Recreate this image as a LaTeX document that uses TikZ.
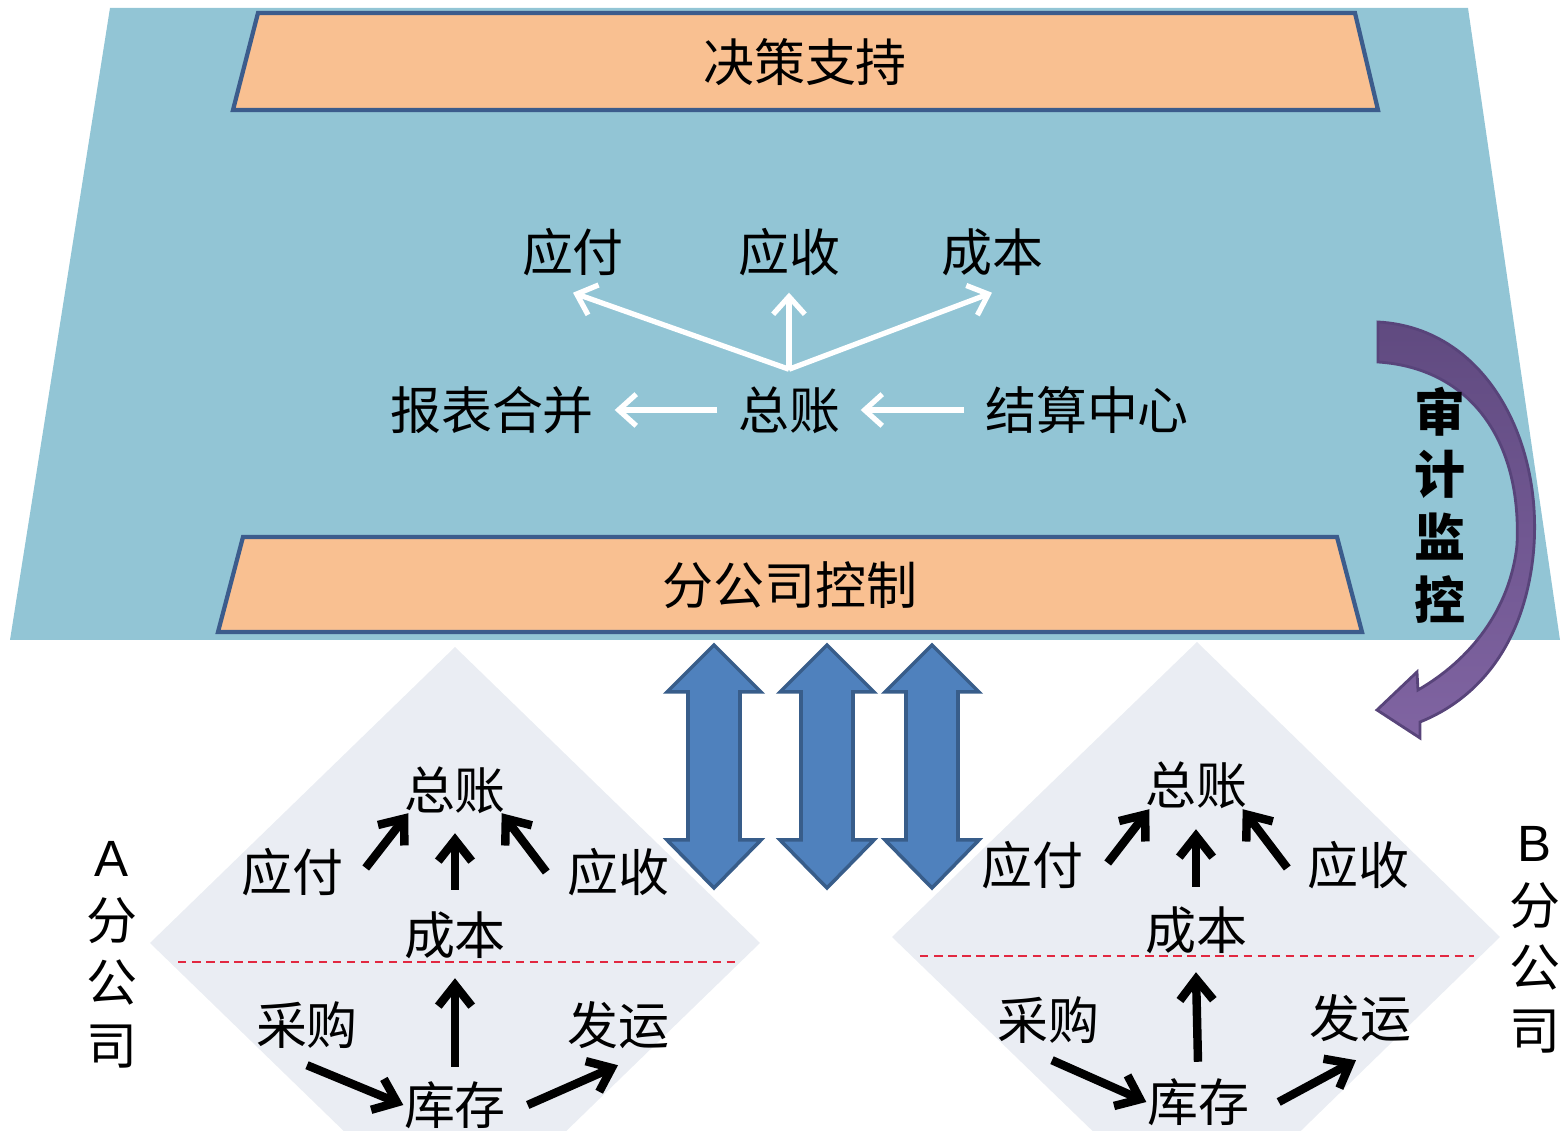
\documentclass[tikz,border=0pt]{standalone}
\usepackage{fontspec}
\setmainfont{Liberation Sans}
\newfontfamily\cjk{Noto Sans CJK SC}
\usepackage{tikz}
\usetikzlibrary{arrows.meta}

\definecolor{skyblue}{RGB}{146,197,213}
\definecolor{peach}{RGB}{249,192,145}
\definecolor{bannerline}{RGB}{60,92,140}
\definecolor{arrowblue}{RGB}{79,129,189}
\definecolor{arrowline}{RGB}{56,93,138}
\definecolor{diagrey}{RGB}{234,237,243}
\definecolor{cutred}{RGB}{226,40,64}
\definecolor{auditdark}{RGB}{96,74,128}
\definecolor{auditlight}{RGB}{128,100,162}
\definecolor{auditline}{RGB}{88,68,122}

\begin{document}
\begin{tikzpicture}[x=0.01cm, y=-0.01cm,
  lbl/.style={font=\cjk\fontsize{14.5pt}{17pt}\selectfont, inner xsep=0.2cm, inner ysep=0pt, minimum height=0.8cm},
  dlbl/.style={font=\cjk\fontsize{14.5pt}{17pt}\selectfont, inner sep=0pt, minimum height=0.55cm},
  side/.style={font=\cjk\fontsize{14.5pt}{17.8pt}\selectfont, align=center, inner sep=0pt},
  wArrow/.style={-{Straight Barb[length=5pt,width=9pt]}, white, line width=1.5pt},
  bArrow/.style={-{Straight Barb[length=6pt,width=9.5pt]}, black, line width=2.4pt},
  banner/.style={fill=peach, draw=bannerline, line width=1.2pt},
  dbl/.style={fill=arrowblue, draw=arrowline, line width=1pt},
  cut/.style={draw=cutred, line width=0.6pt, dash pattern=on 2.4pt off 1.6pt},
  audit/.style={top color=auditdark, bottom color=auditlight, draw=auditline, line width=0.8pt}
]
\useasboundingbox (0,0) rectangle (1562,1131);

% head office
\fill[skyblue] (110,8) -- (1468,8) -- (1560,640) -- (10,640) -- cycle;
\draw[banner] (258,13) -- (1355,13) -- (1378,110) -- (233,110) -- cycle;
\draw[banner] (243,537) -- (1337,537) -- (1362,632) -- (218,632) -- cycle;
\node[lbl](JC) at (805,62) {决策支持};
\node[lbl](FG) at (790,585) {分公司控制};

\node[lbl](YF) at (573,252) {应付};
\node[lbl](YS) at (789,252) {应收};
\node[lbl](CB) at (992,252) {成本};
\node[lbl](BB) at (492,410) {报表合并};
\node[lbl](ZZ) at (789,410) {总账};
\node[lbl](JS) at (1087,410) {结算中心};

\path[wArrow] (ZZ.north) edge (YF.south);
\path[wArrow] (ZZ.north) edge (YS.south);
\path[wArrow] (ZZ.north) edge (CB.south);
\path[wArrow] (ZZ) edge (BB);
\path[wArrow] (JS) edge (ZZ);

% audit
\draw[audit] (1378,322) .. controls (1490,328) and (1548,450) .. (1532,565)
  .. controls (1520,650) and (1475,700) .. (1420,722) -- (1420,738) -- (1377,710)
  -- (1417,672) -- (1418,690) .. controls (1470,660) and (1510,610) .. (1517,545)
  .. controls (1522,440) and (1470,368) .. (1378,362) -- cycle;
\node[side](SJ) at (1440,505) {\bfseries 审\\\bfseries 计\\\bfseries 监\\\bfseries 控};

% branches
\fill[diagrey] (455,647) -- (760,943) -- (455,1239) -- (150,943) -- cycle;
\fill[diagrey] (1197,642) -- (1500,937) -- (1197,1232) -- (892,937) -- cycle;
\draw[cut] (178,962) -- (735,962);
\draw[cut] (920,956) -- (1474,956);

\draw[dbl] (714,645) -- ++(47,47) -- ++(-21,0) -- ++(0,148) -- ++(21,0) -- ++(-47,48)
  -- ++(-47,-48) -- ++(21,0) -- ++(0,-148) -- ++(-21,0) -- cycle;
\draw[dbl] (827,645) -- ++(47,47) -- ++(-21,0) -- ++(0,148) -- ++(21,0) -- ++(-47,48)
  -- ++(-47,-48) -- ++(21,0) -- ++(0,-148) -- ++(-21,0) -- cycle;
\draw[dbl] (932,645) -- ++(47,47) -- ++(-21,0) -- ++(0,148) -- ++(21,0) -- ++(-47,48)
  -- ++(-47,-48) -- ++(21,0) -- ++(0,-148) -- ++(-21,0) -- cycle;

% branch A
\node[side](AL) at (112,955) {{\rmfamily A}\\分\\公\\司};
\node[dlbl](AZZ) at (455,790) {总账};
\node[dlbl](AYF) at (292,872) {应付};
\node[dlbl](AYS) at (618,872) {应收};
\node[dlbl](ACB) at (455,935) {成本};
\node[dlbl](ACG) at (307,1025) {采购};
\node[dlbl](AFY) at (618,1025) {发运};
\node[dlbl](AKC) at (455,1105) {库存};

\path[bArrow] ([xshift=0.22cm,yshift=0.04cm]AYF.east) edge ([xshift=0.05cm,yshift=0.05cm]AZZ.south west);
\path[bArrow] ([yshift=0.17cm]ACB.north) edge ([yshift=-0.15cm]AZZ.south);
\path[bArrow] ([xshift=-0.2cm]AYS.west) edge ([xshift=-0.05cm,yshift=0.05cm]AZZ.south east);
\path[bArrow] ([yshift=0.1cm]AKC.north) edge ([yshift=-0.15cm]ACB.south);
\path[bArrow] ([yshift=-0.12cm]ACG.south) edge (AKC.west);
\path[bArrow] ([xshift=0.21cm]AKC.east) edge ([yshift=-0.12cm]AFY.south);

% branch B
\node[side](BL) at (1535,940) {{\rmfamily B}\\分\\公\\司};
\node[dlbl](BZZ) at (1196,785) {总账};
\node[dlbl](BYF) at (1032,865) {应付};
\node[dlbl](BYS) at (1358,865) {应收};
\node[dlbl](BCB) at (1196,930) {成本};
\node[dlbl](BCG) at (1048,1020) {采购};
\node[dlbl](BFY) at (1360,1018) {发运};
\node[dlbl](BKC) at (1198,1102) {库存};

\path[bArrow] ([xshift=0.24cm,yshift=0.02cm]BYF.east) edge ([xshift=0.05cm,yshift=0.04cm]BZZ.south west);
\path[bArrow] ([yshift=0.15cm]BCB.north) edge ([yshift=-0.16cm]BZZ.south);
\path[bArrow] ([xshift=-0.19cm,yshift=-0.03cm]BYS.west) edge ([xshift=-0.05cm,yshift=0.04cm]BZZ.south east);
\path[bArrow] ([yshift=0.12cm]BKC.north) edge ([yshift=-0.14cm]BCB.south);
\path[bArrow] ([xshift=0.04cm,yshift=-0.12cm]BCG.south) edge (BKC.west);
\path[bArrow] ([xshift=0.29cm]BKC.east) edge ([xshift=-0.04cm,yshift=-0.14cm]BFY.south);
\end{tikzpicture}
\end{document}
